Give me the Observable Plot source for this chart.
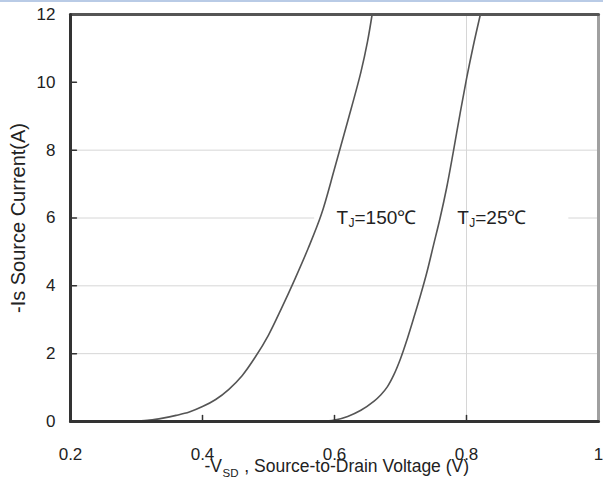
<!DOCTYPE html>
<html><head><meta charset="utf-8">
<script src="https://cdn.jsdelivr.net/npm/d3@7"></script>
<script src="https://cdn.jsdelivr.net/npm/@observablehq/plot@0.6"></script>
<style>
body{margin:0;background:#fff;font-family:"Liberation Sans",Arial,sans-serif;}
#topline{position:absolute;left:0;top:0;width:603px;height:2px;background:#b9cbe6;}
#chart{position:absolute;left:0;top:0;}
</style></head><body>
<div id="chart"></div>
<div id="topline"></div>
<script>
// TJ = 150 °C curve
const v150 = [0.22, 0.28, 0.30, 0.32, 0.34, 0.36, 0.38, 0.40, 0.42, 0.44, 0.46, 0.48, 0.50, 0.52, 0.54, 0.56, 0.58, 0.60, 0.62, 0.64, 0.65, 0.657];
const i150 = [0, 0.005, 0.015, 0.04, 0.10, 0.18, 0.28, 0.44, 0.65, 0.95, 1.35, 1.9, 2.55, 3.35, 4.2, 5.1, 6.1, 7.45, 8.85, 10.3, 11.2, 12];
// TJ = 25 °C curve
const v25 = [0.58, 0.60, 0.62, 0.64, 0.66, 0.67, 0.68, 0.69, 0.70, 0.71, 0.72, 0.73, 0.74, 0.75, 0.76, 0.77, 0.78, 0.79, 0.80, 0.81, 0.821];
const i25 = [0, 0.04, 0.15, 0.33, 0.6, 0.78, 1.02, 1.38, 1.85, 2.42, 3.05, 3.7, 4.4, 5.2, 6.0, 6.9, 7.95, 9.05, 10.1, 11.05, 12];

const xTicks = [0.2, 0.4, 0.6, 0.8, 1];
const yTicks = [0, 2, 4, 6, 8, 10, 12];
const xGrid = [0.8];
const yGrid = [2, 4, 8];
const yGridBroken = [6];
const gridGapStart = 0.57;
const gridGapEnd = 0.955;
const xDomain = [0.2, 1];
const yDomain = [0, 12];
const labelMain = ["T", "T"];
const labelSub = ["J", "J"];
const labelRest = ["=150℃", "=25℃"];
const labelV = [0.603, 0.786];
const labelI = [6, 6];
const xTitleMain = "-V";
const xTitleSub = "SD";
const xTitleRest = " , Source-to-Drain Voltage (V)";
const yTitle = "-Is Source Current(A)";

const d150 = v150.map((v, k) => ({v, i: i150[k]}));
const d25 = v25.map((v, k) => ({v, i: i25[k]}));
const labs = labelMain.map((t, k) => ({t, s: labelSub[k], r: labelRest[k], v: labelV[k], i: labelI[k]}));

// frame edges built from the domains
const [x0, x1] = xDomain, [y0, y1] = yDomain;
const edgeLeft = [{v: x0, i: y0}, {v: x0, i: y1}];
const edgeTop = [{v: x0, i: y1}, {v: x1, i: y1}];
const edgeBottom = [{v: x0, i: y0}, {v: x1, i: y0}];
const edgeRight = [{v: x1, i: y0}, {v: x1, i: y1}];
// inward tick segments (length in data units ≈ 6px)
const xTickLen = 0.18, yTickLen = 0.009;
const xTickSeg = xTicks.slice(1, -1).flatMap((t, k) => [{k, v: t, i: y0}, {k, v: t, i: y0 + xTickLen}]);
const yTickSeg = yTicks.slice(1, -1).flatMap((t, k) => [{k, v: x0, i: t}, {k, v: x0 + yTickLen, i: t}]);

const dark = "#333333";
const ink = "#222222";
const chart = Plot.plot({
  width: 603,
  height: 491,
  marginLeft: 70,
  marginRight: 5,
  marginTop: 14,
  marginBottom: 70,
  style: {fontFamily: '"Liberation Sans", Arial, sans-serif', fontSize: "17px", color: ink},
  x: {domain: xDomain, ticks: xTicks, tickFormat: d => String(d), tickSize: 0, tickPadding: 26, label: null},
  y: {domain: yDomain, ticks: yTicks, tickFormat: d => String(d), tickSize: 0, tickPadding: 15, label: null},
  marks: [
    Plot.ruleX(xGrid, {stroke: "#d6d6d6", strokeWidth: 1}),
    Plot.ruleY(yGrid, {stroke: "#d6d6d6", strokeWidth: 1}),
    Plot.ruleY(yGridBroken, {x1: xDomain[0], x2: gridGapStart, stroke: "#d6d6d6", strokeWidth: 1}),
    Plot.ruleY(yGridBroken, {x1: gridGapEnd, x2: xDomain[1], stroke: "#d6d6d6", strokeWidth: 1}),
    Plot.line(d150, {x: "v", y: "i", stroke: "#555", strokeWidth: 1.6, curve: "catmull-rom"}),
    Plot.line(d25, {x: "v", y: "i", stroke: "#555", strokeWidth: 1.6, curve: "catmull-rom"}),
    Plot.text(labs, {x: "v", y: "i", text: "t", textAnchor: "start", fontSize: 19, fill: ink}),
    Plot.text(labs, {x: "v", y: "i", text: "s", textAnchor: "start", dx: 12, dy: 5, fontSize: 12, fill: ink}),
    Plot.text(labs, {x: "v", y: "i", text: "r", textAnchor: "start", dx: 18, fontSize: 19, fill: ink}),
    Plot.line(xTickSeg, {x: "v", y: "i", z: "k", stroke: dark, strokeWidth: 1.5}),
    Plot.line(yTickSeg, {x: "v", y: "i", z: "k", stroke: dark, strokeWidth: 1.5}),
    Plot.line(edgeRight, {x: "v", y: "i", stroke: "#a0a0a0", strokeWidth: 3}),
    Plot.line(edgeTop, {x: "v", y: "i", stroke: "#555555", strokeWidth: 3}),
    Plot.line(edgeLeft, {x: "v", y: "i", stroke: dark, strokeWidth: 3}),
    Plot.line(edgeBottom, {x: "v", y: "i", stroke: dark, strokeWidth: 3}),
    Plot.text([xTitleMain], {frameAnchor: "bottom-left", textAnchor: "start", dx: 134, dy: 50, fontSize: 17.5, fill: ink}),
    Plot.text([xTitleSub], {frameAnchor: "bottom-left", textAnchor: "start", dx: 152, dy: 55, fontSize: 11.5, fill: ink}),
    Plot.text([xTitleRest], {frameAnchor: "bottom-left", textAnchor: "start", dx: 169, dy: 50, fontSize: 17.5, fill: ink}),
    Plot.text([yTitle], {frameAnchor: "left", textAnchor: "middle", dx: -52, rotate: -90, fontSize: 20, fill: ink})
  ]
});
document.getElementById("chart").append(chart);
</script>
</body></html>
